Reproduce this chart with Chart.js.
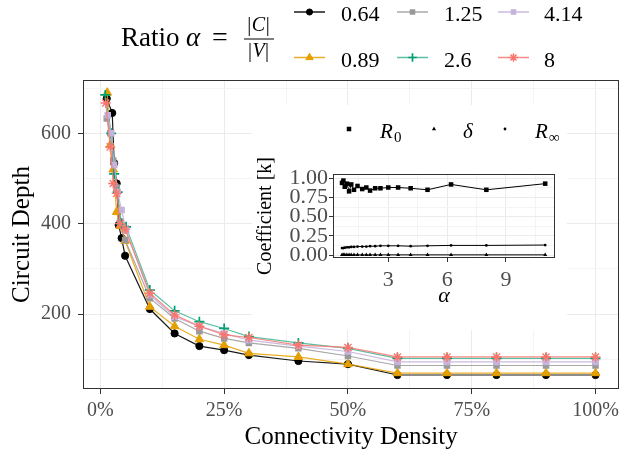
<!DOCTYPE html>
<html>
<head>
<meta charset="utf-8">
<script src="https://cdn.jsdelivr.net/npm/chart.js@4.4.1/dist/chart.umd.min.js"></script>
<style>
  html, body { margin: 0; padding: 0; background: #fff; }
  #wrap { position: relative; width: 623px; height: 454px; overflow: hidden; }
  #main { position: absolute; left: 0; top: 0; }
  #inset { position: absolute; left: 252px; top: 105px; background: #fff; }
</style>
</head>
<body>
<div id="wrap">
  <canvas id="main" width="626" height="454"></canvas>
  <canvas id="inset" width="315" height="225"></canvas>
</div>
<script>
// ---- main chart data: circuit depth vs connectivity density, one series per ratio alpha
const ratioLabels = ['0.64', '0.89', '1.25', '2.6', '4.14', '8'];

const density064 = [1.3, 2.4, 2.8, 3.3, 3.7, 4.3, 5, 10, 15, 20, 25, 30, 40, 50, 60, 70, 80, 90, 100];
const depth064   = [677, 645, 534, 489, 397, 368, 329, 211, 157, 129, 120, 109, 96, 89, 65, 65, 65, 65, 65];

const density089 = [1.4, 2.0, 2.6, 3.3, 4.0, 5, 10, 15, 20, 25, 30, 40, 50, 60, 70, 80, 90, 100];
const depth089   = [690, 574, 520, 426, 395, 362, 216, 173, 144, 131, 113, 105, 89, 69, 69, 69, 69, 69];

const density125 = [1.3, 2.0, 2.6, 3.3, 4.0, 5, 10, 15, 20, 25, 30, 40, 50, 60, 70, 80, 90, 100];
const depth125   = [633, 600, 540, 480, 405, 364, 235, 190, 162, 146, 136, 124, 107, 86, 86, 86, 86, 86];

const density26  = [1.0, 2.2, 2.8, 3.5, 4.2, 5.2, 10, 15, 20, 25, 30, 40, 50, 60, 70, 80, 90, 100];
const depth26    = [685, 600, 510, 470, 400, 393, 253, 207, 183, 168, 150, 136, 124, 102, 102, 102, 102, 102];

const density414 = [1.5, 2.2, 2.8, 3.5, 4.3, 5.2, 10, 15, 20, 25, 30, 40, 50, 60, 70, 80, 90, 100];
const depth414   = [640, 600, 530, 470, 430, 385, 242, 194, 173, 157, 142, 129, 117, 94, 94, 94, 94, 94];

const density8   = [1.1, 2.0, 2.6, 3.3, 4.0, 5.0, 10, 15, 20, 25, 30, 40, 50, 60, 70, 80, 90, 100];
const depth8     = [667, 570, 489, 467, 400, 388, 246, 198, 173, 154, 148, 131, 126, 105, 105, 105, 105, 105];

const densityTicks = [0, 25, 50, 75, 100];
const depthTicks = [200, 400, 600];

// ---- inset data: fitted coefficients vs alpha
const insetAlpha = [0.64, 0.71, 0.78, 0.89, 1.0, 1.11, 1.25, 1.43, 1.67, 1.88, 2.07, 2.33, 2.6, 3.0, 3.5, 4.14, 5.0, 6.2, 8.0, 11.0];
const coefR0     = [0.94, 0.97, 0.89, 0.93, 0.83, 0.92, 0.85, 0.90, 0.86, 0.88, 0.84, 0.87, 0.87, 0.88, 0.88, 0.87, 0.85, 0.92, 0.85, 0.93];
const coefDelta  = [0.002, 0.002, 0.002, 0.002, 0.002, 0.002, 0.002, 0.002, 0.002, 0.002, 0.002, 0.002, 0.002, 0.002, 0.002, 0.002, 0.002, 0.002, 0.002, 0.002];
const coefRinf   = [0.09, 0.09, 0.095, 0.10, 0.10, 0.105, 0.105, 0.11, 0.11, 0.11, 0.115, 0.115, 0.12, 0.12, 0.12, 0.115, 0.12, 0.125, 0.125, 0.13];

const alphaTicks = [3, 6, 9];
const coefTicks = [0, 0.25, 0.5, 0.75, 1];

// ---- styles
const SERIF = '"Liberation Serif", "Times New Roman", serif';
const pointColors = ['#000000', '#E69F00', '#999999', '#009E73', '#C4B3DB', '#F8766D'];
const lineColors = ['rgba(0,0,0,0.9)', 'rgba(230,159,0,0.85)', 'rgba(153,153,153,0.85)',
                    'rgba(0,158,115,0.65)', 'rgba(196,179,219,0.9)', 'rgba(248,118,109,0.85)'];
const pointShapes = ['circle', 'triangle', 'rect', 'cross', 'rect', 'star'];
const pointSizes = [3.6, 5, 4.6, 5, 4.6, 5];
const pointBorders = [1, 1, 0, 1.7, 0, 1.4];

Chart.defaults.font.family = SERIF;

function withMinor(majors, min, max) {
  const step = majors[1] - majors[0];
  const out = [];
  for (let v = majors[0] - step / 2; v <= majors[majors.length - 1] + step / 2 + 1e-9; v += step / 2) {
    if (v >= min && v <= max) {
      out.push({ value: v, isMajor: majors.some(m => Math.abs(m - v) < 1e-9) });
    }
  }
  return out;
}

const gridColor = c => (c.tick && c.tick.isMajor) ? '#EBEBEB' : '#F4F4F4';
const tickMarkColor = c => (c.tick && c.tick.isMajor) ? '#333333' : 'rgba(0,0,0,0)';

// fixed axis boxes
const fixHeight = h => s => { s.height = h; s.paddingLeft = 0; s.paddingRight = 0; };
const fixWidth = w => s => { s.width = w; s.paddingTop = 0; s.paddingBottom = 0; };

const panelBorder = {
  id: 'panelBorder',
  afterDatasetsDraw(chart) {
    const { ctx, chartArea: a } = chart;
    ctx.save();
    ctx.strokeStyle = '#333333';
    ctx.lineWidth = 1;
    ctx.strokeRect(Math.round(a.left) + 0.5, Math.round(a.top) + 0.5,
      Math.round(a.right - a.left) - 1, Math.round(a.bottom - a.top) - 1);
    ctx.restore();
  }
};

function drawAbs(ctx, letter, cx, baseline) {
  ctx.font = '20px ' + SERIF;
  const wb = ctx.measureText('|').width;
  ctx.font = 'italic 20px ' + SERIF;
  const wl = ctx.measureText(letter).width;
  const gap = 0.5;
  let x = cx - (2 * wb + wl + 2 * gap) / 2;
  ctx.font = '20px ' + SERIF;
  ctx.fillText('|', x, baseline);
  x += wb + gap;
  ctx.font = 'italic 20px ' + SERIF;
  ctx.fillText(letter, x, baseline);
  x += wl + gap;
  ctx.font = '20px ' + SERIF;
  ctx.fillText('|', x, baseline);
}

const ratioLegend = {
  id: 'ratioLegend',
  afterDraw(chart) {
    const ctx = chart.ctx;
    ctx.save();
    ctx.fillStyle = '#000';
    ctx.textAlign = 'left';
    ctx.textBaseline = 'alphabetic';
    ctx.font = '27px ' + SERIF;
    ctx.fillText('Ratio', 121, 46);
    ctx.font = 'italic 27px ' + SERIF;
    ctx.fillText('α', 186, 46);
    ctx.font = '28px ' + SERIF;
    ctx.fillText('=', 212, 46);
    drawAbs(ctx, 'C', 258.5, 31);
    drawAbs(ctx, 'V', 258.5, 57);
    ctx.fillRect(244, 38.5, 30, 1);

    const keyX = [294, 397, 498];
    const labelX = [341, 444, 544];
    const rowY = [12, 57.5];
    chart.data.datasets.forEach((ds, i) => {
      const col = Math.floor(i / 2), row = i % 2;
      const kx = keyX[col], ky = rowY[row];
      ctx.strokeStyle = ds.borderColor;
      ctx.lineWidth = 1.5;
      ctx.beginPath();
      ctx.moveTo(kx, ky);
      ctx.lineTo(kx + 31, ky);
      ctx.stroke();
      ctx.fillStyle = ds.pointBackgroundColor;
      ctx.strokeStyle = ds.pointBorderColor;
      ctx.lineWidth = ds.pointBorderWidth;
      Chart.helpers.drawPoint(ctx, {
        pointStyle: ds.pointStyle, radius: ds.pointRadius * 0.85,
        borderWidth: ds.pointBorderWidth, rotation: 0
      }, kx + 15.5, ky);
      ctx.fillStyle = '#000';
      ctx.font = '22px ' + SERIF;
      ctx.fillText(ds.label, labelX[col], ky + 9);
    });
    ctx.restore();
  }
};

const seriesX = [density064, density089, density125, density26, density414, density8];
const seriesY = [depth064, depth089, depth125, depth26, depth414, depth8];

new Chart(document.getElementById('main'), {
  type: 'line',
  data: {
    datasets: ratioLabels.map((lab, i) => ({
      label: lab,
      data: seriesX[i].map((x, j) => ({ x, y: seriesY[i][j] })),
      borderColor: lineColors[i],
      borderWidth: 1.2,
      pointStyle: pointShapes[i],
      pointRadius: pointSizes[i],
      pointBackgroundColor: pointColors[i],
      pointBorderColor: pointColors[i],
      pointBorderWidth: pointBorders[i],
      tension: 0,
      order: ratioLabels.length - 1 - i
    }))
  },
  options: {
    responsive: false,
    devicePixelRatio: 1,
    animation: false,
    events: [],
    layout: { padding: { top: 80, right: 0, bottom: 0, left: 0 } },
    plugins: { legend: { display: false }, tooltip: { enabled: false } },
    scales: {
      x: {
        type: 'linear',
        min: -3.5,
        max: 104.8,
        afterFit: fixHeight(65),
        afterBuildTicks: s => { s.ticks = withMinor(densityTicks, s.min, s.max); },
        border: { display: false },
        grid: { color: gridColor, tickColor: tickMarkColor, tickLength: 5, lineWidth: 1 },
        ticks: {
          autoSkip: false, maxRotation: 0, padding: 5,
          color: '#4D4D4D', font: { size: 20, family: SERIF },
          callback: (v, i, t) => t[i].isMajor ? v + '%' : ''
        },
        title: {
          display: true, text: 'Connectivity Density', color: '#000',
          font: { size: 25, family: SERIF }, padding: { top: 0, bottom: 2 }
        }
      },
      y: {
        type: 'linear',
        min: 34,
        max: 718,
        afterFit: fixWidth(83),
        afterBuildTicks: s => { s.ticks = withMinor(depthTicks, s.min, s.max); },
        border: { display: false },
        grid: { color: gridColor, tickColor: tickMarkColor, tickLength: 5, lineWidth: 1 },
        ticks: {
          autoSkip: false, padding: 7,
          color: '#4D4D4D', font: { size: 20, family: SERIF },
          callback: (v, i, t) => t[i].isMajor ? String(v) : ''
        },
        title: {
          display: true, text: 'Circuit Depth', color: '#000',
          font: { size: 25, family: SERIF }, padding: { top: 7, bottom: 0 }
        }
      }
    }
  },
  plugins: [panelBorder, ratioLegend]
});

// ---- inset
const coefLegend = {
  id: 'coefLegend',
  afterDraw(chart) {
    const ctx = chart.ctx;
    const y = 24;
    ctx.save();
    ctx.fillStyle = '#000';
    ctx.strokeStyle = '#000';
    ctx.textAlign = 'left';
    ctx.textBaseline = 'alphabetic';
    const marks = [
      { style: 'rect', r: 3.2, x: 97 },
      { style: 'triangle', r: 2.4, x: 182 },
      { style: 'circle', r: 1.4, x: 253 }
    ];
    marks.forEach(m => {
      Chart.helpers.drawPoint(ctx, { pointStyle: m.style, radius: m.r, borderWidth: 0, rotation: 0 }, m.x, y);
    });
    ctx.font = 'italic 21px ' + SERIF;
    ctx.fillText('R', 128, y + 9);
    ctx.fillText('δ', 211, y + 9);
    ctx.fillText('R', 283, y + 9);
    ctx.font = '15px ' + SERIF;
    ctx.fillText('0', 142, y + 13);
    ctx.fillText('∞', 297, y + 13);
    ctx.restore();
  }
};

new Chart(document.getElementById('inset'), {
  type: 'line',
  data: {
    datasets: [
      { label: 'R0', data: insetAlpha.map((a, j) => ({ x: a, y: coefR0[j] })),
        pointStyle: 'rect', pointRadius: 3.2 },
      { label: 'delta', data: insetAlpha.map((a, j) => ({ x: a, y: coefDelta[j] })),
        pointStyle: 'triangle', pointRadius: 2.3 },
      { label: 'Rinf', data: insetAlpha.map((a, j) => ({ x: a, y: coefRinf[j] })),
        pointStyle: 'circle', pointRadius: 1.4 }
    ].map(ds => Object.assign(ds, {
      borderColor: '#000', borderWidth: 1, pointBackgroundColor: '#000',
      pointBorderColor: '#000', pointBorderWidth: 0, tension: 0
    }))
  },
  options: {
    responsive: false,
    devicePixelRatio: 1,
    animation: false,
    events: [],
    layout: { padding: { top: 69, right: 12, bottom: 0, left: 0 } },
    plugins: { legend: { display: false }, tooltip: { enabled: false } },
    scales: {
      x: {
        type: 'linear',
        min: 0.18,
        max: 11.5,
        afterFit: fixHeight(72),
        afterBuildTicks: s => { s.ticks = withMinor(alphaTicks, s.min, s.max); },
        border: { display: false },
        grid: { color: gridColor, tickColor: tickMarkColor, tickLength: 4, lineWidth: 1 },
        ticks: {
          autoSkip: false, maxRotation: 0, padding: 5,
          color: '#4D4D4D', font: { size: 22, family: SERIF },
          callback: (v, i, t) => t[i].isMajor ? String(v) : ''
        },
        title: {
          display: true, text: 'α', color: '#000',
          font: { size: 22, family: SERIF, style: 'italic' }, padding: { top: 0, bottom: 21 }
        }
      },
      y: {
        type: 'linear',
        min: -0.039,
        max: 1.056,
        afterFit: fixWidth(81),
        afterBuildTicks: s => { s.ticks = withMinor(coefTicks, s.min, s.max); },
        border: { display: false },
        grid: { color: gridColor, tickColor: tickMarkColor, tickLength: 4, lineWidth: 1 },
        ticks: {
          autoSkip: false, padding: 1,
          color: '#4D4D4D', font: { size: 22, family: SERIF },
          callback: (v, i, t) => t[i].isMajor ? v.toFixed(2) : ''
        },
        title: {
          display: true, text: 'Coefficient [k]', color: '#000',
          font: { size: 20, family: SERIF }, padding: { top: 2, bottom: 0 }
        }
      }
    }
  },
  plugins: [panelBorder, coefLegend]
});
</script>
</body>
</html>
